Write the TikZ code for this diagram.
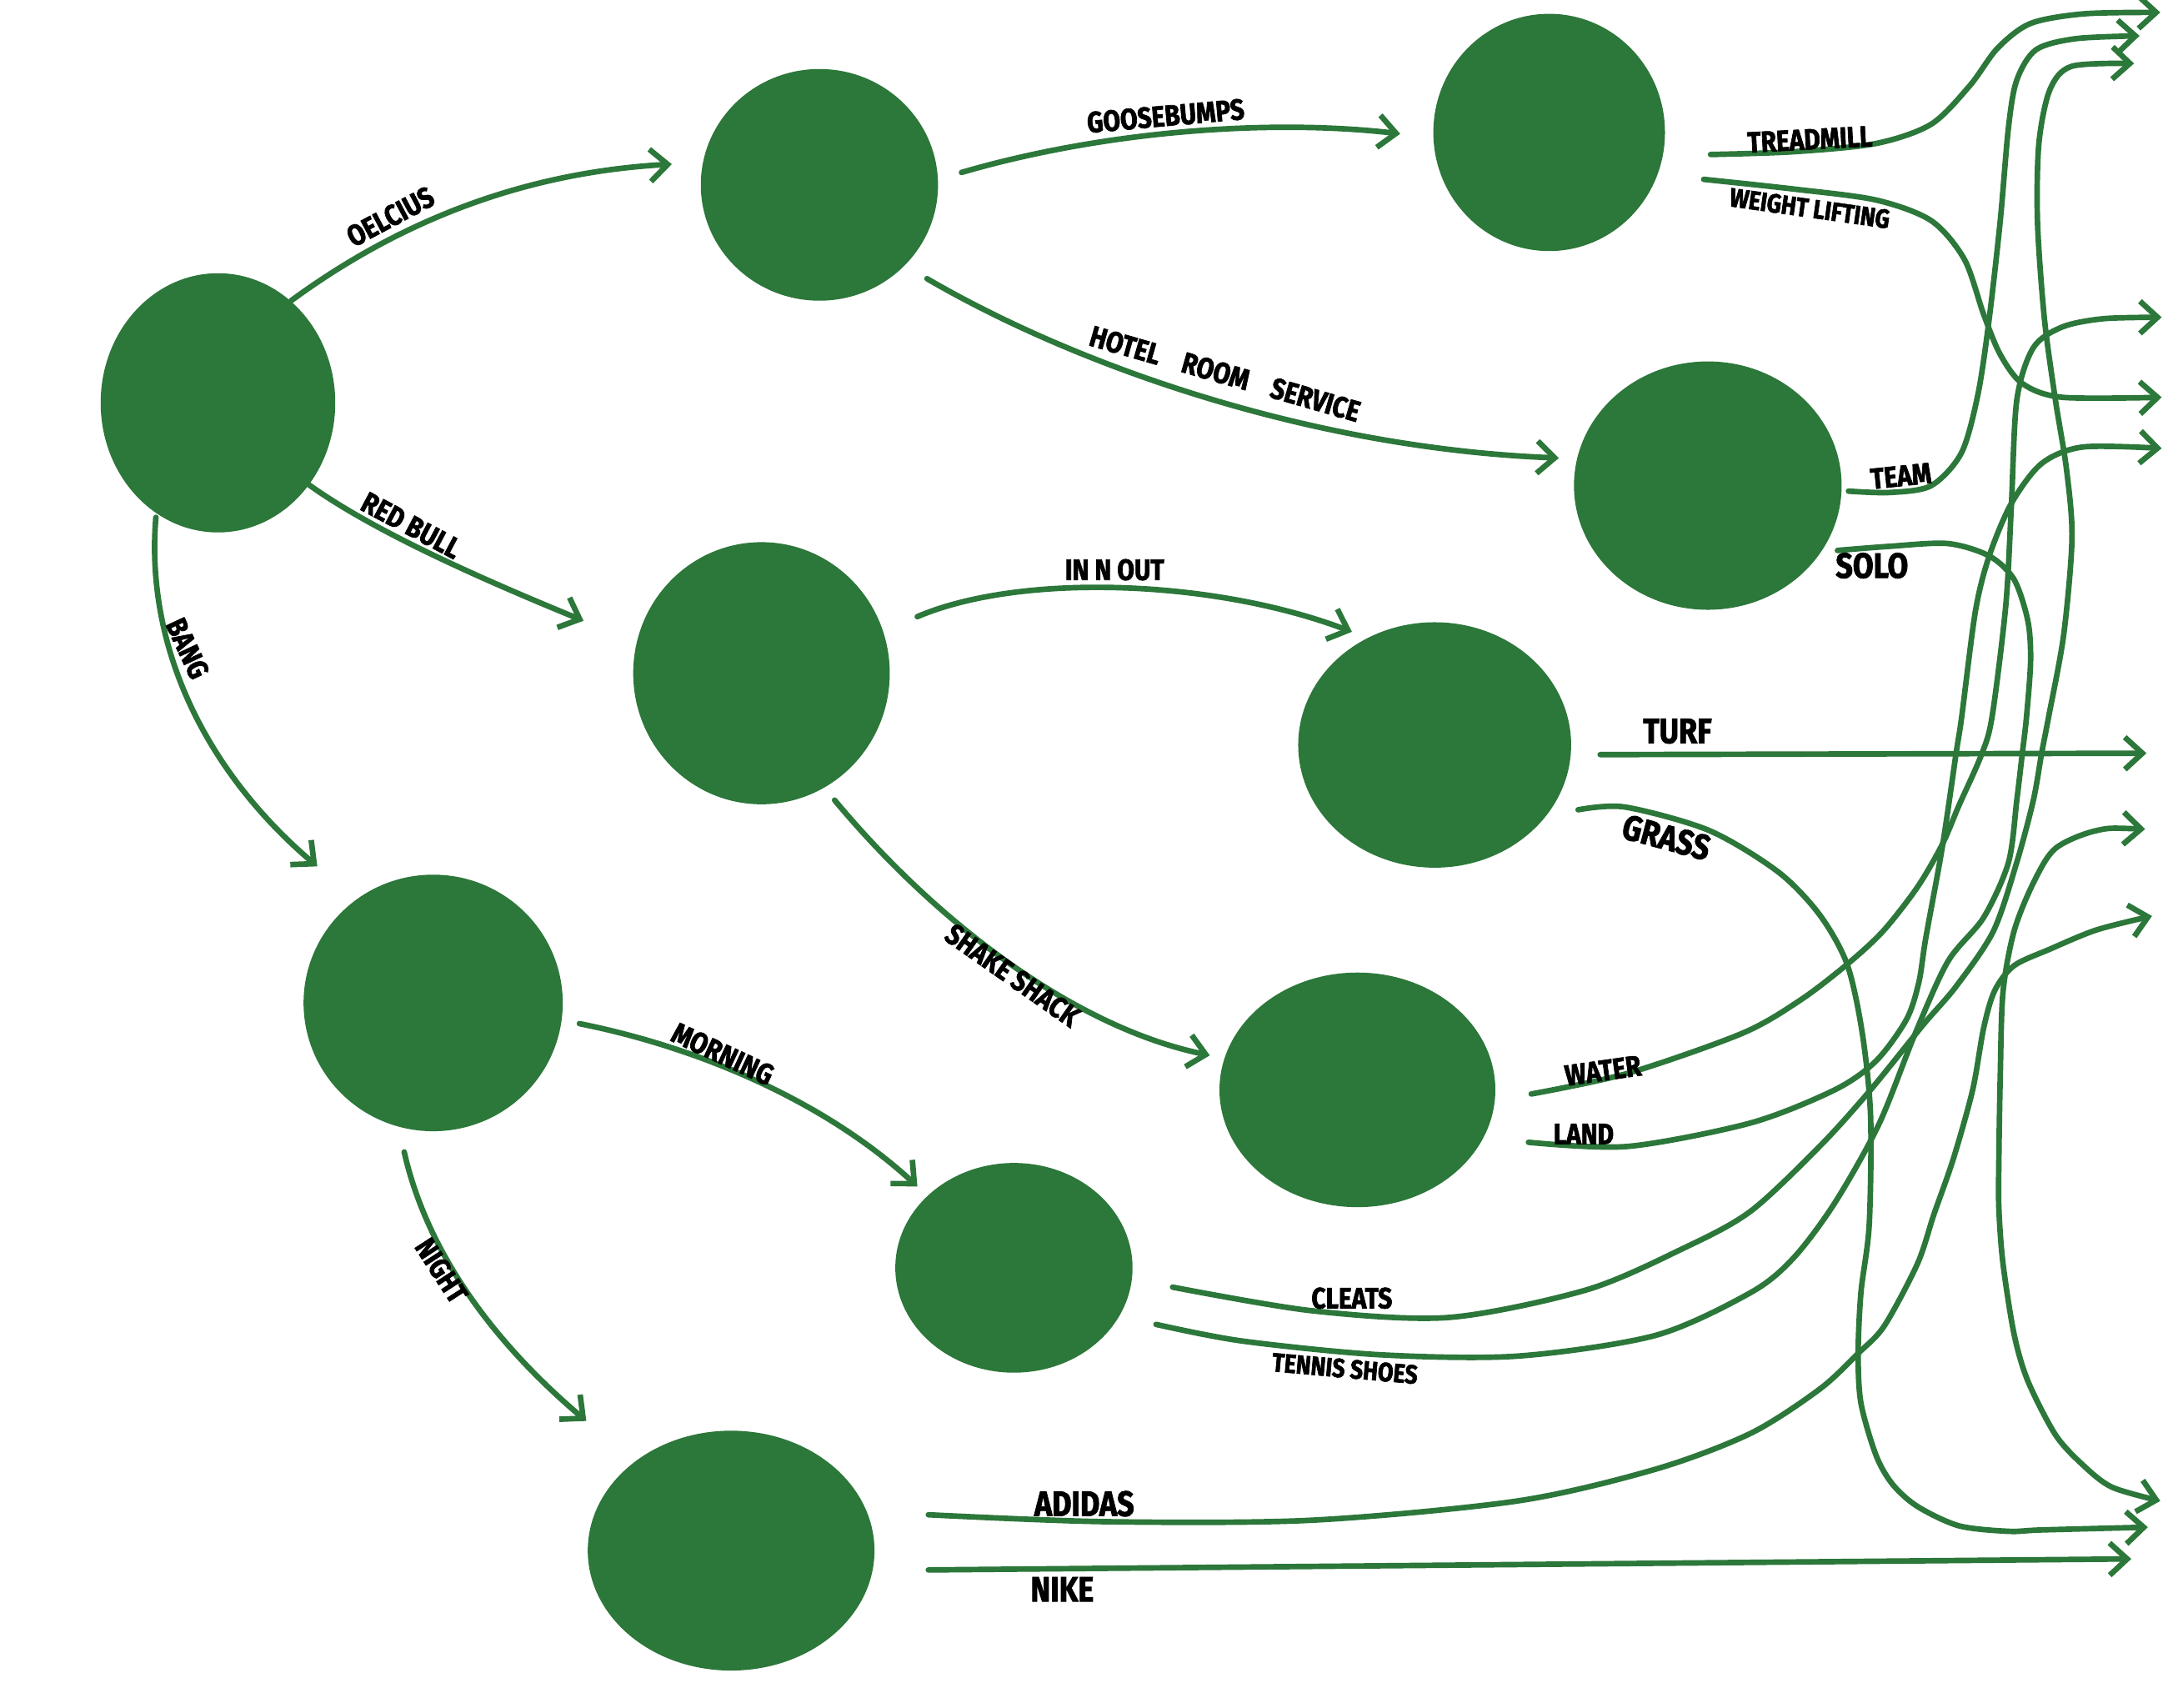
\documentclass[tikz,border=0pt]{standalone}
\usepackage{fontspec}
\setmainfont{Fira Sans}[FakeStretch=0.85,BoldFeatures={FakeBold=2}]
\usetikzlibrary{shapes.geometric,arrows.meta}
\definecolor{gr}{RGB}{44,119,58}
\begin{document}
\begin{tikzpicture}[x=0.01655cm,y=-0.01655cm,
  blob/.style={ellipse,fill=gr,draw=none,inner sep=0pt},
  conn/.style={draw=gr,line width=1.9pt,line cap=round,-{Straight Barb[length=6pt,width=11pt]}},
  dconn/.style={draw=gr,line width=1.9pt,line cap=round,{Straight Barb[length=6pt,width=11pt]}-{Straight Barb[length=6pt,width=11pt]}},
  pconn/.style={draw=gr,line width=1.9pt,line cap=round},
  lbl/.style={font=\bfseries\fontsize{10}{10}\selectfont,inner sep=0pt,text=black},
  lblS/.style={font=\bfseries\fontsize{9}{9}\selectfont,inner sep=0pt,text=black},
  lblL/.style={font=\bfseries\fontsize{12}{12}\selectfont,inner sep=0pt,text=black}]
\useasboundingbox (0,0) rectangle (1568,1237.5);
\fill[white] (0,0) rectangle (1568,1237.5);

% nodes
\node[blob,minimum width=80.1pt,minimum height=88.5pt] (n1) at (158,292) {};
\node[blob,minimum width=81.0pt,minimum height=79.1pt] (n2) at (594,134) {};
\node[blob,minimum width=79.1pt,minimum height=81.0pt] (n3) at (1123,96) {};
\node[blob,minimum width=91.4pt,minimum height=84.8pt] (n4) at (1238,352) {};
\node[blob,minimum width=87.6pt,minimum height=89.5pt] (n5) at (552,488) {};
\node[blob,minimum width=93.2pt,minimum height=83.8pt] (n6) at (1040,540) {};
\node[blob,minimum width=88.5pt,minimum height=87.6pt] (n7) at (314,727) {};
\node[blob,minimum width=94.2pt,minimum height=80.1pt] (n8) at (984,790) {};
\node[blob,minimum width=81.0pt,minimum height=71.6pt] (n9) at (735,919) {};
\node[blob,minimum width=97.9pt,minimum height=81.9pt] (n10) at (530,1124) {};

% left connectors
\coordinate (a1) at (211,218);  \coordinate (b1) at (487,119);
\draw[conn] (a1) .. controls (290,160) and (380,125) .. (b1);
\coordinate (a2) at (697,125);  \coordinate (b2) at (1015,97);
\draw[conn] (a2) .. controls (800,95) and (920,86) .. (b2);
\coordinate (a3) at (672,202);  \coordinate (b3) at (1130,332);
\draw[conn] (a3) .. controls (780,265) and (950,325) .. (b3);
\coordinate (a4) at (222,350);  \coordinate (b4) at (423,450);
\draw[conn] (a4) .. controls (270,385) and (350,420) .. (b4);
\coordinate (a5) at (113,375);  \coordinate (b5) at (230,628);
\draw[conn] (a5) .. controls (105,470) and (150,560) .. (b5);
\coordinate (a6) at (665,447);  \coordinate (b6) at (980,458);
\draw[conn] (a6) .. controls (740,415) and (880,420) .. (b6);
\coordinate (a7) at (605,580);  \coordinate (b7) at (877,765);
\draw[conn] (a7) .. controls (680,670) and (780,745) .. (b7);
\coordinate (a8) at (420,742);  \coordinate (b8) at (665,860);
\draw[conn] (a8) .. controls (510,760) and (600,800) .. (b8);
\coordinate (a9) at (293,835);  \coordinate (b9) at (425,1030);
\draw[conn] (a9) .. controls (310,910) and (360,975) .. (b9);

% right side curves
\draw[conn] plot[smooth] coordinates {(1240,112) (1300,110) (1360,104) (1400,90) (1428,62) (1448,35) (1472,17) (1511,10) (1566,9)};
\draw[conn] plot[smooth] coordinates {(1235,130) (1300,137) (1360,145) (1400,160) (1424,188) (1438,228) (1450,257) (1466,278) (1495,288) (1567,288)};
\draw[conn] plot[smooth] coordinates {(1340,356) (1370,357) (1400,352) (1422,328) (1434,285) (1442,231) (1450,160) (1456,92) (1462,58) (1476,36) (1505,28) (1551,26)};
\draw[pconn] plot[smooth] coordinates {(1332,399) (1370,396) (1412,394) (1442,403) (1460,420) (1470,450) (1472,479) (1469,520) (1466,546) (1462,580) (1456,625) (1438,665) (1412,697) (1388,750) (1362,815) (1330,872) (1300,912) (1269,937) (1200,968) (1100,983) (1000,982) (900,972) (838,960)};
\draw[conn] plot[smooth] coordinates {(850,933) (950,950) (1050,955) (1150,935) (1220,905) (1269,878) (1320,830) (1356,790) (1394,743) (1418,715) (1445,675) (1462,625) (1474,580) (1480,546) (1485,520) (1496,460) (1502,390) (1498,340) (1490,290) (1482,231) (1477,161) (1478,104) (1486,65) (1502,48) (1547,46)};
\draw[conn] plot[smooth] coordinates {(1110,793) (1180,778) (1263,749) (1305,725) (1339,699) (1365,675) (1390,643) (1408,612) (1420,584) (1436,548) (1444,520) (1454,439) (1458,368) (1462,290) (1474,252) (1495,237) (1525,231) (1567,230)};
\draw[conn] plot[smooth] coordinates {(1108,828) (1180,831) (1269,814) (1330,790) (1360,769) (1382,739) (1391,712) (1396,680) (1408,614) (1418,546) (1422,520) (1432,443) (1442,403) (1458,365) (1480,336) (1510,324) (1567,325)};
\draw[conn] plot[smooth] coordinates {(673,1098) (800,1103) (950,1102) (1100,1088) (1200,1065) (1269,1039) (1319,1007) (1347,981) (1366,961) (1390,916) (1402,880) (1416,840) (1430,790) (1438,745) (1446,718) (1460,700) (1486,688) (1520,674) (1560,664)};
\draw[dconn] plot[smooth] coordinates {(1555,601) (1520,602) (1490,615) (1474,640) (1460,675) (1452,719) (1450,780) (1449,840) (1449,876) (1452,916) (1460,967) (1470,1001) (1490,1040) (1510,1062) (1531,1078) (1566,1088)};
\draw[conn] plot[smooth] coordinates {(1144,587) (1178,585) (1239,602) (1289,632) (1319,663) (1339,699) (1350,749) (1356,809) (1355,888) (1349,937) (1347,981) (1349,1017) (1360,1055) (1372,1076) (1390,1092) (1420,1106) (1456,1110) (1480,1109) (1557,1107)};
\coordinate (t1) at (1160,547); \coordinate (t2) at (1556,546);
\draw[conn] (t1) -- (t2);
\coordinate (k1) at (673,1138); \coordinate (k2) at (1545,1130);
\draw[conn] (k1) -- (k2);

% labels
\node[lbl,rotate=28] (l1) at (283,157) {OELCIUS};
\node[lbl,rotate=5] (l2) at (845,84) {GOOSEBUMPS};
\node[lbl,rotate=-16] (l3) at (888,271) {HOTEL\ \ \ \ ROOM\ \ \ \ SERVICE};
\node[lbl,rotate=-28] (l4) at (298,381) {RED BULL};
\node[lbl,rotate=-65] (l5) at (136,470) {BANG};
\node[lbl] (l6) at (808,413) {IN N OUT};
\node[lbl,rotate=-35] (l7) at (734,707) {SHAKE SHACK};
\node[lbl,rotate=-25] (l8) at (524,764) {MORNING};
\node[lbl,rotate=-57] (l9) at (320,921) {NIGHT};
\node[lbl,rotate=3] (l10) at (1312,101) {TREADMILL};
\node[lblS,rotate=-8] (l11) at (1312,151) {WEIGHT LIFTING};
\node[lbl,rotate=6] (l12) at (1378,345) {TEAM};
\node[lblL] (l13) at (1357,410) {SOLO};
\node[lblL] (l14) at (1216,530) {TURF};
\node[lblL,rotate=-15] (l15) at (1208,607) {GRASS};
\node[lbl,rotate=8] (l16) at (1162,776) {WATER};
\node[lbl] (l17) at (1148,822) {LAND};
\node[lbl] (l18) at (980,941) {CLEATS};
\node[lblS,rotate=-5] (l19) at (975,992) {TENNIS SHOES};
\node[lblL] (l20) at (786,1090) {ADIDAS};
\node[lblL] (l21) at (770,1152) {NIKE};
\end{tikzpicture}
\end{document}
